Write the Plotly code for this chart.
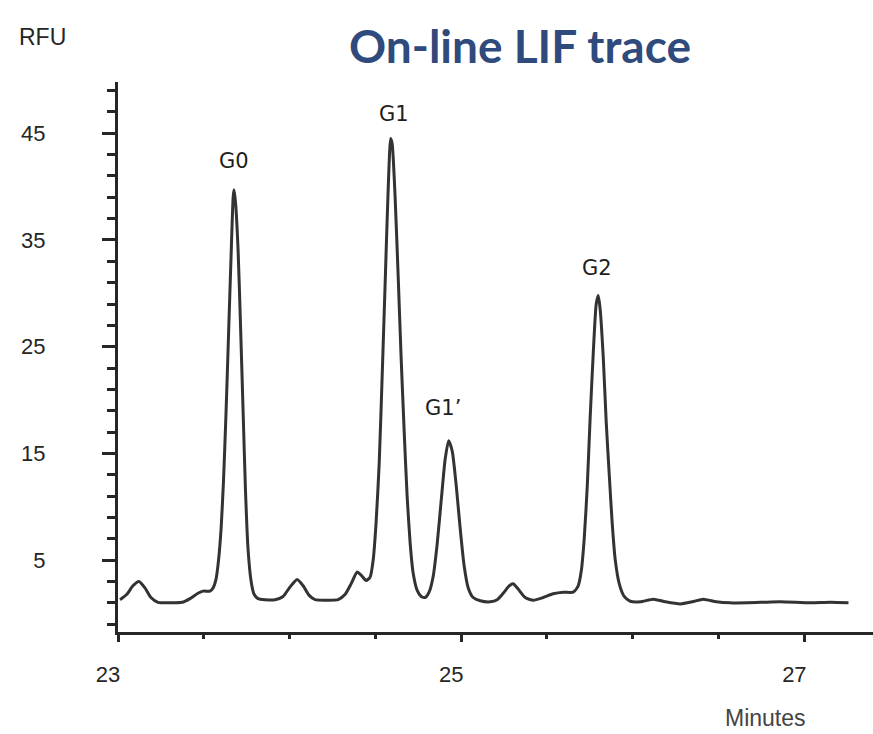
import plotly.graph_objects as go

# Trace: time (minutes) and signal (RFU)
minutes = [
    23.012, 23.052, 23.087, 23.122, 23.157, 23.192, 23.233, 23.303, 23.373, 23.420,
    23.466, 23.496, 23.536, 23.554,
    23.571, 23.586, 23.601, 23.615, 23.630, 23.644, 23.659, 23.671, 23.676, 23.685,
    23.700, 23.714, 23.729, 23.743, 23.758, 23.776, 23.793, 23.816,
    23.857, 23.915, 23.962, 24.003, 24.044, 24.079, 24.114, 24.149, 24.207, 24.283,
    24.324, 24.359, 24.394, 24.417, 24.446, 24.469,
    24.487, 24.504, 24.522, 24.539, 24.557, 24.574, 24.589, 24.598, 24.615, 24.633,
    24.650, 24.668, 24.685, 24.703, 24.720, 24.743, 24.767, 24.790,
    24.813, 24.837, 24.860, 24.883, 24.907, 24.927, 24.948, 24.971, 24.994, 25.017,
    25.041, 25.070, 25.111,
    25.169, 25.210, 25.245, 25.280, 25.303, 25.332, 25.373, 25.420, 25.478, 25.536,
    25.595, 25.653, 25.682,
    25.700, 25.717, 25.735, 25.752, 25.770, 25.787, 25.799, 25.810, 25.828, 25.845,
    25.863, 25.880, 25.898, 25.921, 25.950, 25.985,
    26.044, 26.120, 26.190, 26.277, 26.347, 26.411, 26.487, 26.569, 26.743, 26.860,
    27.035, 27.152, 27.257,
]
rfu = [
    1.3, 1.8, 2.6, 3.0, 2.4, 1.5, 1.05, 1.0, 1.05, 1.4,
    1.9, 2.1, 2.1, 2.4,
    3.2, 5.0, 8.0, 12.5, 19.0, 26.0, 33.5, 39.0, 39.7, 38.5,
    34.0, 27.0, 19.0, 11.5, 6.0, 3.0, 1.8, 1.4,
    1.3, 1.3, 1.6, 2.5, 3.2, 2.6, 1.7, 1.3, 1.25, 1.3,
    1.8, 2.8, 3.9, 3.6, 3.1, 3.4,
    5.0, 8.5, 14.0, 22.0, 31.0, 39.5, 44.5, 44.0, 39.0, 31.5,
    24.0, 17.0, 11.0, 6.5, 3.8, 2.2, 1.6, 1.5,
    2.0, 3.5, 6.5, 10.5, 14.5, 16.2, 15.2, 12.0, 8.0, 4.5,
    2.4, 1.5, 1.2,
    1.1, 1.3, 1.9, 2.6, 2.8, 2.3, 1.5, 1.25, 1.5, 1.85,
    2.0, 2.0, 2.6,
    4.0, 7.0, 12.0, 18.5, 24.5, 29.0, 29.8, 28.5, 24.0, 18.0,
    13.0, 8.5, 5.0, 2.8, 1.6, 1.15,
    1.1, 1.35, 1.1, 0.9, 1.1, 1.35, 1.1, 1.0, 1.05, 1.1,
    1.0, 1.05, 1.0,
]

peak_names = ["G0", "G1", "G1\u2019", "G2"]
peak_times = [23.676, 24.589, 24.927, 25.799]
peak_heights = [39.7, 44.5, 16.2, 29.8]

y_tick_vals = [5, 15, 25, 35, 45]
x_tick_vals = [23, 25, 27]

INK = "#262626"

fig = go.Figure()
fig.add_trace(go.Scatter(
    x=minutes, y=rfu, mode="lines",
    line=dict(color="#333333", width=3, shape="spline", smoothing=0.6),
    showlegend=False, hoverinfo="skip",
))

# peak label offsets (pixels)
label_xshift = [0, 3, -6, -1]
label_yshift = [15, 11, 19, 13]
for name, t, h, dx, dy in zip(peak_names, peak_times, peak_heights, label_xshift, label_yshift):
    fig.add_annotation(
        x=t, y=h, text=name, showarrow=False, xanchor="center", yanchor="bottom",
        xshift=dx, yshift=dy,
        font=dict(family="DejaVu Sans", size=21, color="#1e1e1e"),
    )

fig.add_annotation(
    xref="paper", yref="paper", x=0.532, y=1.067, text="<b>On-line LIF trace</b>",
    showarrow=False, xanchor="center", yanchor="middle",
    font=dict(family="Lato", size=46, color="#2f4a7c"),
)
fig.add_annotation(
    xref="paper", yref="paper", x=-0.1, y=1.082, text="RFU",
    showarrow=False, xanchor="center", yanchor="middle",
    font=dict(family="Liberation Sans", size=23, color=INK),
)
fig.add_annotation(
    xref="paper", yref="paper", x=0.857, y=-0.156, text="Minutes",
    showarrow=False, xanchor="center", yanchor="middle",
    font=dict(family="Liberation Sans", size=23, color="#444444"),
)

fig.update_xaxes(
    range=[23.0, 27.40], showgrid=False, zeroline=False,
    showline=True, linecolor=INK, linewidth=3,
    tickmode="array", tickvals=x_tick_vals, ticktext=[str(v) for v in x_tick_vals],
    ticks="outside", ticklen=7, tickwidth=3, tickcolor=INK,
    minor=dict(dtick=0.5, tick0=23, ticks="outside", ticklen=4, tickwidth=3, tickcolor=INK, showgrid=False),
    tickfont=dict(family="Liberation Sans", size=22, color=INK),
    ticklabelstandoff=14, ticklabelshift=-10,
)
fig.update_yaxes(
    range=[-1.73, 49.8], showgrid=False, zeroline=False,
    showline=True, linecolor=INK, linewidth=3,
    tickmode="array", tickvals=y_tick_vals, ticktext=[str(v) for v in y_tick_vals],
    ticks="outside", ticklen=13, tickwidth=3, tickcolor=INK,
    minor=dict(dtick=2, tick0=1, ticks="outside", ticklen=8, tickwidth=3, tickcolor=INK, showgrid=False),
    tickfont=dict(family="Liberation Sans", size=22, color=INK),
    ticklabelstandoff=52,
)

fig.update_layout(
    width=873, height=734,
    margin=dict(l=118, r=0, t=82, b=102),
    paper_bgcolor="white", plot_bgcolor="white",
)

fig.write_html("out.html")
